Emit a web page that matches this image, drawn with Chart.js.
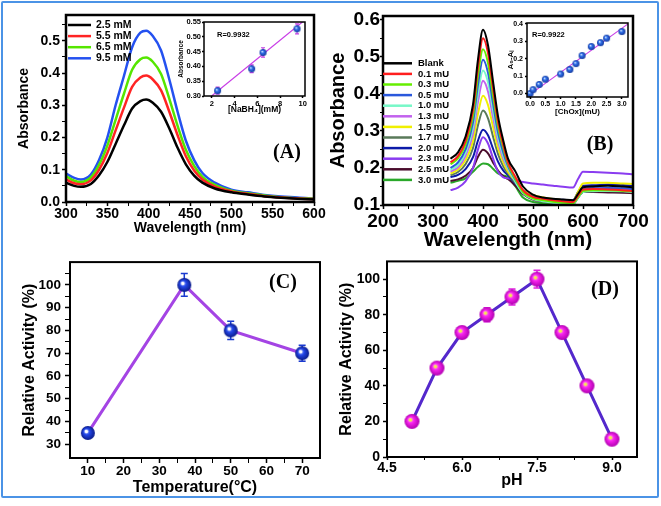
<!DOCTYPE html>
<html>
<head>
<meta charset="utf-8">
<script src="https://cdn.jsdelivr.net/npm/chart.js@4.4.1/dist/chart.umd.min.js"></script>
<style>
	body { margin: 0; background: #fff; }
	#wrap { position: relative; width: 661px; height: 506px; overflow: hidden; }
	#border { position: absolute; left: 1px; top: 1px; width: 654px; height: 493px; border: 2px solid #4b93e6; border-radius: 2px; }
	canvas { position: absolute; }
</style>
</head>
<body>
<div id="wrap">
	<div id="border"></div>
	<canvas id="panelA" width="330" height="250" style="left:0;top:0;width:330px;height:250px"></canvas>
	<canvas id="panelB" width="331" height="256" style="left:330px;top:0;width:331px;height:256px"></canvas>
	<canvas id="panelC" width="330" height="250" style="left:0;top:250px;width:330px;height:250px"></canvas>
	<canvas id="panelD" width="331" height="250" style="left:330px;top:250px;width:331px;height:250px"></canvas>
	<canvas id="insetA" width="140" height="110" style="left:170px;top:15px;width:140px;height:110px"></canvas>
	<canvas id="insetB" width="138" height="108" style="left:495px;top:15px;width:138px;height:108px"></canvas>
</div>
<script>
// (A) absorbance spectra for NaBH4 concentrations
const aWavelength = [300, 310, 318, 330, 340, 350, 360, 370, 380, 390, 397, 405, 415, 425, 435, 445, 455, 465, 480, 500, 520, 540, 560, 580, 600];
const aLabels = ["2.5 mM", "5.5 mM", "6.5 mM", "9.5 mM"];
const a25 = [0.06, 0.05, 0.047, 0.056, 0.083, 0.124, 0.18, 0.237, 0.29, 0.313, 0.318, 0.308, 0.28, 0.228, 0.168, 0.117, 0.082, 0.06, 0.042, 0.03, 0.023, 0.017, 0.013, 0.01, 0.008];
const a55 = [0.07, 0.058, 0.055, 0.067, 0.1, 0.152, 0.222, 0.292, 0.357, 0.386, 0.392, 0.38, 0.346, 0.28, 0.207, 0.142, 0.098, 0.07, 0.048, 0.033, 0.025, 0.018, 0.014, 0.011, 0.009];
const a65 = [0.08, 0.066, 0.062, 0.076, 0.115, 0.175, 0.255, 0.335, 0.41, 0.443, 0.448, 0.435, 0.397, 0.32, 0.236, 0.162, 0.112, 0.078, 0.053, 0.035, 0.027, 0.02, 0.015, 0.012, 0.01];
const a95 = [0.088, 0.075, 0.07, 0.085, 0.13, 0.2, 0.3, 0.39, 0.48, 0.525, 0.531, 0.515, 0.47, 0.38, 0.28, 0.19, 0.13, 0.09, 0.06, 0.038, 0.03, 0.022, 0.017, 0.014, 0.01];

// inset of (A)
const insetAConc = [2.5, 5.5, 6.5, 9.5];
const insetAAbs = [0.318, 0.392, 0.447, 0.527];
const insetAErr = [0.012, 0.013, 0.016, 0.017];
const insetAFitX = [1.97, 10.2];
const insetAFitY = [0.30, 0.557];

// (B) absorbance spectra for ChOx activities
const bWavelength = [335, 350, 365, 380, 390, 400, 410, 420, 430, 440, 450, 465, 480, 500, 520, 540, 560, 580, 590, 600, 620, 650, 680, 700];
const bLabels = ["Blank", "0.1 mU", "0.3 mU", "0.5 mU", "1.0 mU", "1.3 mU", "1.5 mU", "1.7 mU", "2.0 mU", "2.3 mU", "2.5 mU", "3.0 mU"];
const bBlank = [0.225, 0.242, 0.284, 0.371, 0.493, 0.573, 0.531, 0.434, 0.34, 0.277, 0.225, 0.19, 0.15, 0.128, 0.12, 0.117, 0.115, 0.113, 0.13, 0.148, 0.15, 0.152, 0.15, 0.148];
const b01 = [0.215, 0.232, 0.272, 0.356, 0.473, 0.55, 0.51, 0.416, 0.325, 0.265, 0.215, 0.175, 0.14, 0.122, 0.117, 0.113, 0.11, 0.108, 0.125, 0.142, 0.143, 0.142, 0.14, 0.138];
const b03 = [0.21, 0.226, 0.263, 0.34, 0.449, 0.52, 0.483, 0.396, 0.312, 0.257, 0.21, 0.17, 0.135, 0.118, 0.113, 0.109, 0.106, 0.105, 0.122, 0.138, 0.14, 0.14, 0.138, 0.137];
const b05 = [0.2, 0.215, 0.25, 0.323, 0.425, 0.492, 0.457, 0.375, 0.296, 0.244, 0.205, 0.168, 0.138, 0.123, 0.118, 0.115, 0.112, 0.11, 0.127, 0.143, 0.145, 0.146, 0.145, 0.143];
const b10 = [0.195, 0.208, 0.241, 0.308, 0.401, 0.463, 0.431, 0.356, 0.283, 0.235, 0.2, 0.162, 0.132, 0.116, 0.11, 0.106, 0.104, 0.103, 0.12, 0.135, 0.137, 0.138, 0.137, 0.135];
const b13 = [0.19, 0.202, 0.232, 0.293, 0.379, 0.435, 0.406, 0.337, 0.271, 0.227, 0.198, 0.165, 0.135, 0.12, 0.115, 0.112, 0.11, 0.108, 0.127, 0.142, 0.145, 0.145, 0.143, 0.142];
const b15 = [0.185, 0.196, 0.221, 0.273, 0.347, 0.395, 0.37, 0.311, 0.254, 0.217, 0.19, 0.165, 0.14, 0.127, 0.12, 0.116, 0.113, 0.111, 0.135, 0.158, 0.16, 0.16, 0.158, 0.157];
const b17 = [0.18, 0.189, 0.21, 0.254, 0.315, 0.355, 0.334, 0.285, 0.238, 0.206, 0.185, 0.16, 0.135, 0.12, 0.113, 0.109, 0.107, 0.106, 0.125, 0.14, 0.142, 0.142, 0.14, 0.139];
const b20 = [0.175, 0.181, 0.197, 0.229, 0.274, 0.303, 0.288, 0.252, 0.217, 0.194, 0.18, 0.158, 0.135, 0.122, 0.117, 0.115, 0.114, 0.113, 0.135, 0.152, 0.153, 0.155, 0.154, 0.152];
const b23 = [0.14, 0.147, 0.164, 0.2, 0.25, 0.283, 0.266, 0.226, 0.19, 0.175, 0.172, 0.168, 0.162, 0.158, 0.155, 0.152, 0.149, 0.147, 0.17, 0.19, 0.189, 0.187, 0.185, 0.183];
const b25 = [0.165, 0.169, 0.179, 0.2, 0.23, 0.249, 0.239, 0.215, 0.193, 0.178, 0.17, 0.152, 0.13, 0.115, 0.11, 0.107, 0.105, 0.104, 0.12, 0.135, 0.135, 0.134, 0.133, 0.132];
const b30 = [0.16, 0.165, 0.172, 0.19, 0.203, 0.212, 0.21, 0.198, 0.185, 0.18, 0.175, 0.15, 0.12, 0.108, 0.105, 0.103, 0.102, 0.101, 0.12, 0.135, 0.137, 0.138, 0.137, 0.136];

// inset of (B)
const insetBConc = [0, 0.1, 0.3, 0.5, 1.0, 1.3, 1.5, 1.7, 2.0, 2.3, 2.5, 3.0];
const insetBDelta = [0.0, 0.022, 0.052, 0.082, 0.112, 0.138, 0.172, 0.218, 0.27, 0.292, 0.318, 0.356];
const insetBErr = [0.008, 0.008, 0.008, 0.008, 0.008, 0.008, 0.008, 0.008, 0.008, 0.008, 0.008, 0.008];
const insetBFitX = [-0.08, 3.2];
const insetBFitY = [-0.015, 0.40];

// (C) temperature
const cTemp = [10, 37, 50, 70];
const cActivity = [35, 100, 80, 70];
const cError = [1.5, 5, 4, 3.5];

// (D) pH
const dPH = [5, 5.5, 6, 6.5, 7, 7.5, 8, 8.5, 9];
const dActivity = [20, 50, 70, 80, 90, 100, 70, 40, 10];
const dError = [2, 2, 3, 4, 4.5, 5, 2, 2, 2];

// axis ticks (all ticks, then the labelled ones)
const aXTicks = [300, 325, 350, 375, 400, 425, 450, 475, 500, 525, 550, 575, 600];
const aXLabels = [300, 350, 400, 450, 500, 550, 600];
const aYTicks = [0, 0.05, 0.1, 0.15, 0.2, 0.25, 0.3, 0.35, 0.4, 0.45, 0.5, 0.55];
const aYLabels = [0, 0.1, 0.2, 0.3, 0.4, 0.5];
const bXTicks = [200, 250, 300, 350, 400, 450, 500, 550, 600, 650, 700];
const bXLabels = [200, 300, 400, 500, 600, 700];
const bYTicks = [0.1, 0.15, 0.2, 0.25, 0.3, 0.35, 0.4, 0.45, 0.5, 0.55, 0.6];
const bYLabels = [0.1, 0.2, 0.3, 0.4, 0.5, 0.6];
const cXTicks = [10, 15, 20, 25, 30, 35, 40, 45, 50, 55, 60, 65, 70];
const cXLabels = [10, 20, 30, 40, 50, 60, 70];
const cYTicks = [30, 35, 40, 45, 50, 55, 60, 65, 70, 75, 80, 85, 90, 95, 100, 105];
const cYLabels = [30, 40, 50, 60, 70, 80, 90, 100];
const dXTicks = [4.5, 5.25, 6, 6.75, 7.5, 8.25, 9];
const dXLabels = [4.5, 6, 7.5, 9];
const dYTicks = [0, 10, 20, 30, 40, 50, 60, 70, 80, 90, 100];
const dYLabels = [0, 20, 40, 60, 80, 100];
const iaXTicks = [2, 4, 6, 8, 10];
const iaYTicks = [0.3, 0.35, 0.4, 0.45, 0.5, 0.55];
const ibXTicks = [0, 0.5, 1, 1.5, 2, 2.5, 3];
const ibYTicks = [0, 0.1, 0.2, 0.3, 0.4];

const SANS = '"Liberation Sans", Arial, sans-serif';
const SERIF = '"Liberation Serif", "Times New Roman", serif';
Chart.defaults.font.family = SANS;
Chart.defaults.font.weight = 'bold';
Chart.defaults.color = '#000';

// box around the plot area, optional white fill for the insets
const boxFrame = {
	id: 'boxFrame',
	beforeDraw(chart, args, opts) {
		if (!opts.fill) return;
		const a = chart.chartArea;
		chart.ctx.save();
		chart.ctx.fillStyle = '#fff';
		chart.ctx.fillRect(a.left, a.top, a.right - a.left, a.bottom - a.top);
		chart.ctx.restore();
	},
	afterDraw(chart, args, opts) {
		if (!opts.width) return;
		const a = chart.chartArea;
		const ctx = chart.ctx;
		ctx.save();
		ctx.strokeStyle = '#000';
		ctx.lineWidth = opts.width;
		ctx.strokeRect(a.left, a.top, a.right - a.left, a.bottom - a.top);
		ctx.restore();
	}
};

// vertical error bars, drawn under the markers
const errorBars = {
	id: 'errorBars',
	beforeDatasetsDraw(chart) {
		const ctx = chart.ctx;
		const xs = chart.scales.x;
		const ys = chart.scales.y;
		for (const ds of chart.data.datasets) {
			if (!ds.errorBars) continue;
			ctx.save();
			ctx.strokeStyle = ds.errorColor;
			ctx.lineWidth = ds.errorWidth;
			ds.data.forEach((p, i) => {
				const x = xs.getPixelForValue(p.x);
				const y1 = ys.getPixelForValue(p.y + ds.errorBars[i]);
				const y2 = ys.getPixelForValue(p.y - ds.errorBars[i]);
				const cap = ds.errorCap;
				ctx.beginPath();
				ctx.moveTo(x, y1); ctx.lineTo(x, y2);
				ctx.moveTo(x - cap, y1); ctx.lineTo(x + cap, y1);
				ctx.moveTo(x - cap, y2); ctx.lineTo(x + cap, y2);
				ctx.stroke();
			});
			ctx.restore();
		}
	}
};

// legend with line samples, and free text labels
const panelText = {
	id: 'panelText',
	afterDraw(chart, args, opts) {
		const ctx = chart.ctx;
		ctx.save();
		ctx.fillStyle = '#000';
		ctx.textBaseline = 'middle';
		if (opts.legend) {
			const lg = opts.legend;
			ctx.font = lg.font;
			ctx.textAlign = 'left';
			chart.data.datasets.forEach((ds, i) => {
				const y = lg.y + i * lg.step;
				ctx.strokeStyle = ds.borderColor;
				ctx.lineWidth = lg.lineWidth;
				ctx.beginPath();
				ctx.moveTo(lg.x, y);
				ctx.lineTo(lg.x + lg.len, y);
				ctx.stroke();
				ctx.fillText(ds.label, lg.x + lg.len + lg.gap, y);
			});
		}
		for (const t of (opts.items || [])) {
			ctx.font = t.font;
			ctx.textAlign = t.align || 'center';
			ctx.fillText(t.text, t.x, t.y);
		}
		ctx.restore();
	}
};

Chart.register(boxFrame, errorBars, panelText);

function makeAxis(cfg) {
	const isX = cfg.axis === 'x';
	return {
		type: 'linear',
		position: isX ? 'bottom' : 'left',
		min: cfg.min,
		max: cfg.max,
		afterBuildTicks: (scale) => { scale.ticks = cfg.ticks.map(v => ({ value: v })); },
		afterFit: (scale) => {
			if (isX) scale.height = cfg.size;
			else scale.width = cfg.size;
		},
		border: { display: false },
		grid: {
			drawOnChartArea: false,
			drawTicks: true,
			tickLength: cfg.tickLength,
			tickColor: '#000',
			tickWidth: (c) => (c.tick && cfg.labels.includes(c.tick.value)) ? 1.5 : 1
		},
		ticks: {
			autoSkip: false,
			maxRotation: 0,
			minRotation: 0,
			padding: cfg.pad,
			color: '#000',
			font: { size: cfg.fontSize, weight: 'bold' },
			callback: (v) => cfg.labels.includes(v) ? v.toFixed(cfg.digits) : ''
		},
		title: {
			display: true,
			text: cfg.title,
			color: '#000',
			font: { size: cfg.titleSize, weight: 'bold', lineHeight: cfg.titleLH || 1.2 },
			padding: isX ? { top: 0, bottom: cfg.titlePad } : { top: cfg.titlePad, bottom: 0 }
		}
	};
}

function points(xs, ys) {
	return xs.map((x, i) => ({ x: x, y: ys[i] }));
}

function makeSphere(r, light, mid, dark, spot, spotR) {
	const c = document.createElement('canvas');
	c.width = c.height = Math.ceil(r * 2 + 2);
	const g = c.getContext('2d');
	const m = c.width / 2;
	const grad = g.createRadialGradient(m - r * 0.3, m - r * 0.3, r * 0.05, m, m, r);
	grad.addColorStop(0, light);
	grad.addColorStop(0.4, mid);
	grad.addColorStop(1, dark);
	g.fillStyle = grad;
	g.beginPath();
	g.arc(m, m, r, 0, Math.PI * 2);
	g.fill();
	if (spot) {
		g.fillStyle = spot;
		g.beginPath();
		g.arc(m - r * 0.2, m - r * 0.2, spotR, 0, Math.PI * 2);
		g.fill();
	}
	return c;
}

function baseOptions(pad) {
	return {
		responsive: false,
		animation: false,
		layout: { padding: { top: pad.top, right: pad.right, bottom: 0, left: 0 } },
		elements: { point: { radius: 0 } },
		plugins: { legend: { display: false }, tooltip: { enabled: false } }
	};
}

function drawPanelA() {
	const series = [a25, a55, a65, a95];
	const colors = ['#000000', '#ff2424', '#55e600', '#2451f0'];
	const opts = baseOptions({ top: 15, right: 16 });
	opts.scales = {
		x: makeAxis({ axis: 'x', min: 300, max: 600, ticks: aXTicks, labels: aXLabels, digits: 0, size: 48,
			tickLength: 4, pad: 0, fontSize: 14, title: 'Wavelength (nm)', titleSize: 14, titlePad: 13.4 }),
		y: makeAxis({ axis: 'y', min: 0, max: 0.58, ticks: aYTicks, labels: aYLabels, digits: 1, size: 66,
			tickLength: 4, pad: 2, fontSize: 14, title: 'Absorbance', titleSize: 14, titlePad: 15.6 })
	};
	opts.plugins.boxFrame = { width: 2.5 };
	opts.plugins.panelText = {
		legend: { x: 68, y: 25, step: 11.1, len: 23, gap: 5, lineWidth: 2.5, font: 'bold 10.5px ' + SANS },
		items: [{ text: '(A)', x: 287, y: 153, font: 'bold 20px ' + SERIF }]
	};
	return new Chart(document.getElementById('panelA'), {
		type: 'line',
		data: {
			datasets: series.map((s, i) => ({
				label: aLabels[i],
				data: points(aWavelength, s),
				borderColor: colors[i],
				borderWidth: 2.5,
				cubicInterpolationMode: 'monotone',
				fill: false
			}))
		},
		options: opts
	});
}

function drawInsetA() {
	const opts = baseOptions({ top: 7, right: 5 });
	opts.scales = {
		x: makeAxis({ axis: 'x', min: 1.3, max: 10.2, ticks: iaXTicks, labels: iaXTicks, digits: 0, size: 29,
			tickLength: 2, pad: 1, fontSize: 7.5, title: '[NaBH\u2084](mM)', titleSize: 8.5, titlePad: 10.5 }),
		y: makeAxis({ axis: 'y', min: 0.3, max: 0.55, ticks: iaYTicks, labels: iaYTicks, digits: 2, size: 34,
			tickLength: 2, pad: 1, fontSize: 7.5, title: 'Absorbance', titleSize: 6.5, titlePad: 7.1 })
	};
	opts.plugins.boxFrame = { width: 1.5, fill: true };
	opts.plugins.panelText = {
		items: [{ text: 'R=0.9932', x: 47, y: 20, align: 'left', font: 'bold 7.5px ' + SANS }]
	};
	return new Chart(document.getElementById('insetA'), {
		type: 'line',
		data: {
			datasets: [{
				data: points(insetAConc, insetAAbs),
				showLine: false,
				pointStyle: makeSphere(3.5, '#d8ecff', '#2f6ee8', '#153a9e'),
				pointRadius: 3.5,
				errorBars: insetAErr,
				errorColor: '#c040e0',
				errorWidth: 1.2,
				errorCap: 2
			}, {
				data: points(insetAFitX, insetAFitY),
				borderColor: '#c83ce6',
				borderWidth: 1.2,
				pointRadius: 0
			}]
		},
		options: opts
	});
}

function drawPanelB() {
	const series = [bBlank, b01, b03, b05, b10, b13, b15, b17, b20, b23, b25, b30];
	const colors = ['#000000', '#ff1e1e', '#66ee00', '#2a58dc', '#78f8c8', '#c262ee', '#f0f000',
		'#5a7a5a', '#0c1aa8', '#8a3cf0', '#4a0c2c', '#2aa82a'];
	const opts = baseOptions({ top: 16, right: 28 });
	opts.scales = {
		x: makeAxis({ axis: 'x', min: 200, max: 700, ticks: bXTicks, labels: bXLabels, digits: 0, size: 51,
			tickLength: 4, pad: 1, fontSize: 19, title: 'Wavelength (nm)', titleSize: 21, titleLH: 1, titlePad: 5 }),
		y: makeAxis({ axis: 'y', min: 0.1, max: 0.61, ticks: bYTicks, labels: bYLabels, digits: 1, size: 53,
			tickLength: 3, pad: 0, fontSize: 19, title: 'Absorbance', titleSize: 20, titleLH: 1, titlePad: -1.5 })
	};
	opts.plugins.boxFrame = { width: 2.5 };
	opts.plugins.panelText = {
		legend: { x: 53, y: 63.3, step: 10.6, len: 29, gap: 6, lineWidth: 2.5, font: 'bold 9.5px ' + SANS },
		items: [{ text: '(B)', x: 270, y: 145, font: 'bold 20px ' + SERIF }]
	};
	return new Chart(document.getElementById('panelB'), {
		type: 'line',
		data: {
			datasets: series.map((s, i) => ({
				label: bLabels[i],
				data: points(bWavelength, s),
				borderColor: colors[i],
				borderWidth: 2,
				cubicInterpolationMode: 'monotone',
				fill: false
			}))
		},
		options: opts
	});
}

function drawInsetB() {
	const opts = baseOptions({ top: 8, right: 5 });
	opts.scales = {
		x: makeAxis({ axis: 'x', min: -0.1, max: 3.2, ticks: ibXTicks, labels: ibXTicks, digits: 1, size: 26,
			tickLength: 2, pad: 1, fontSize: 7, title: '[ChOx](mU)', titleSize: 8, titlePad: 6.7 }),
		y: makeAxis({ axis: 'y', min: -0.02, max: 0.405, ticks: ibYTicks, labels: ibYTicks, digits: 1, size: 32,
			tickLength: 2, pad: 2, fontSize: 7, title: 'A\u2080-A\u1D62', titleSize: 8, titlePad: 11.2 })
	};
	opts.plugins.boxFrame = { width: 1.5, fill: true };
	opts.plugins.panelText = {
		items: [{ text: 'R=0.9922', x: 37, y: 20, align: 'left', font: 'bold 7.5px ' + SANS }]
	};
	return new Chart(document.getElementById('insetB'), {
		type: 'line',
		data: {
			datasets: [{
				data: points(insetBConc, insetBDelta),
				showLine: false,
				pointStyle: makeSphere(3.5, '#d8ecff', '#2f6ee8', '#153a9e'),
				pointRadius: 3.5,
				errorBars: insetBErr,
				errorColor: '#6a7ae0',
				errorWidth: 1,
				errorCap: 1.5
			}, {
				data: points(insetBFitX, insetBFitY),
				borderColor: '#c83ce6',
				borderWidth: 1.2,
				pointRadius: 0
			}]
		},
		options: opts
	});
}

function drawPanelC() {
	const opts = baseOptions({ top: 5, right: 8 });
	opts.scales = {
		x: makeAxis({ axis: 'x', min: 5, max: 75, ticks: cXTicks, labels: cXLabels, digits: 0, size: 42,
			tickLength: 5, pad: 0, fontSize: 13.5, title: 'Temperature(\u00B0C)', titleSize: 16, titlePad: 2.4 }),
		y: makeAxis({ axis: 'y', min: 24, max: 110, ticks: cYTicks, labels: cYLabels, digits: 0, size: 70,
			tickLength: 5, pad: 4, fontSize: 13.5, title: 'Relative Activity (%)', titleSize: 16, titlePad: 20 })
	};
	opts.plugins.boxFrame = { width: 2 };
	opts.plugins.panelText = {
		items: [{ text: '(C)', x: 283, y: 33, font: 'bold 20px ' + SERIF }]
	};
	return new Chart(document.getElementById('panelC'), {
		type: 'line',
		data: {
			datasets: [{
				data: points(cTemp, cActivity),
				borderColor: '#a444e4',
				borderWidth: 3,
				pointStyle: makeSphere(7, '#ffffff', '#2448ea', '#0a1a88', '#ffffff', 1.6),
				pointRadius: 7,
				errorBars: cError,
				errorColor: '#1a3ad0',
				errorWidth: 1.5,
				errorCap: 3.5
			}]
		},
		options: opts
	});
}

function drawPanelD() {
	const opts = baseOptions({ top: 10, right: 24 });
	opts.scales = {
		x: makeAxis({ axis: 'x', min: 4.5, max: 9.5, ticks: dXTicks, labels: dXLabels, digits: 1, size: 43,
			tickLength: 3, pad: 0, fontSize: 14, title: 'pH', titleSize: 16, titlePad: 9.4 }),
		y: makeAxis({ axis: 'y', min: 0, max: 110, ticks: dYTicks, labels: dYLabels, digits: 0, size: 57,
			tickLength: 4, pad: 3, fontSize: 14, title: 'Relative Activity (%)', titleSize: 16, titlePad: 7.4 })
	};
	opts.plugins.boxFrame = { width: 2 };
	opts.plugins.panelText = {
		items: [{ text: '(D)', x: 275, y: 40, font: 'bold 20px ' + SERIF }]
	};
	return new Chart(document.getElementById('panelD'), {
		type: 'line',
		data: {
			datasets: [{
				data: points(dPH, dActivity),
				borderColor: '#5428cc',
				borderWidth: 3,
				pointStyle: makeSphere(7.5, '#ffb8ff', '#f824ee', '#b000b0', '#f4f040', 1.8),
				pointRadius: 7.5,
				errorBars: dError,
				errorColor: '#e020e0',
				errorWidth: 1.5,
				errorCap: 3.5
			}]
		},
		options: opts
	});
}

drawPanelA();
drawPanelB();
drawPanelC();
drawPanelD();
drawInsetA();
drawInsetB();
</script>
</body>
</html>
